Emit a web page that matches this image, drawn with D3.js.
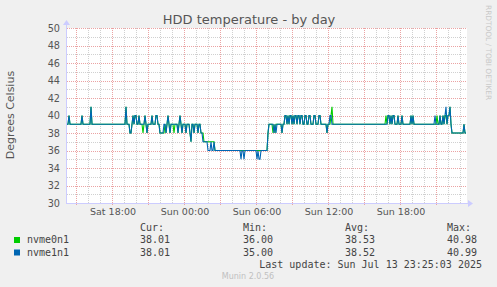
<!DOCTYPE html>
<html>
<head>
<meta charset="utf-8">
<script src="https://cdn.jsdelivr.net/npm/d3@7"></script>
<style>
    body { margin: 0; background: #f0f0f0; }
    svg { display: block; }
</style>
</head>
<body>
<svg id="chart"></svg>
<script>
var width = 497,
    height = 287;

// 5 minute samples from Sat 14:15, stored as [value, number of samples]
var startTime = new Date(2025, 6, 12, 14, 15);
var endTime = new Date(2025, 6, 13, 23, 35);

var nvme0n1 = [
    [39, 2], [40, 1], [39, 12], [40, 1], [39, 8], [41, 1], [39, 34], [41, 1], [39, 3], [38, 2],
    [39, 1], [40, 1], [39, 1], [40, 2], [39, 2], [40, 1], [39, 3], [38, 1], [39, 1], [40, 1],
    [39, 1], [38, 1], [39, 4], [40, 1], [39, 3], [40, 2], [39, 2], [38, 5], [39, 1], [38, 1],
    [39, 1], [40, 1], [39, 1], [38, 1], [39, 3], [38, 1], [39, 3], [38, 1], [39, 1], [40, 1],
    [39, 1], [38, 1], [39, 3], [38, 1], [39, 3], [38, 1], [37, 1], [39, 2], [38, 1], [39, 3],
    [38, 1], [39, 2], [38, 3], [37, 11], [36, 53], [38, 1], [39, 4], [38, 1], [39, 1], [38, 1],
    [39, 6], [38, 1], [39, 2], [40, 2], [39, 1], [40, 1], [39, 1], [40, 2], [39, 1], [40, 1],
    [39, 1], [40, 2], [39, 1], [40, 2], [39, 1], [40, 2], [39, 2], [40, 2], [39, 2], [40, 2],
    [39, 3], [40, 2], [39, 3], [40, 2], [39, 6], [38, 1], [39, 3], [40, 1], [41, 1], [39, 53],
    [40, 1], [39, 1], [40, 2], [39, 1], [40, 1], [39, 1], [40, 2], [39, 3], [40, 1], [39, 3],
    [40, 1], [39, 8], [40, 1], [39, 1], [40, 1], [39, 23], [40, 1], [39, 2], [40, 1], [39, 2],
    [40, 1], [39, 1], [40, 2], [39, 1], [40, 2], [41, 1], [39, 1], [38, 12], [39, 1], [38, 2]
];

var nvme1n1 = [
    [39, 2], [40, 1], [39, 12], [40, 1], [39, 8], [41, 1], [39, 34], [41, 1], [39, 3], [38, 2],
    [39, 1], [40, 1], [39, 1], [40, 2], [39, 2], [40, 1], [39, 5], [40, 1], [39, 1], [38, 1],
    [39, 4], [40, 1], [39, 3], [40, 2], [39, 2], [38, 4], [39, 2], [38, 1], [39, 1], [40, 1],
    [39, 1], [38, 1], [39, 7], [38, 1], [39, 1], [40, 1], [39, 1], [38, 1], [39, 3], [38, 1],
    [39, 3], [38, 1], [37, 1], [39, 2], [38, 1], [39, 3], [38, 1], [39, 2], [38, 2], [37, 5],
    [36, 3], [37, 1], [36, 2], [37, 1], [36, 26], [35, 1], [36, 2], [35, 1], [36, 12], [35, 1],
    [36, 1], [35, 2], [36, 7], [38, 1], [39, 5], [38, 1], [39, 1], [38, 1], [39, 5], [38, 1],
    [39, 2], [40, 2], [39, 1], [40, 1], [39, 1], [40, 2], [39, 1], [40, 1], [39, 1], [40, 2],
    [39, 1], [40, 2], [39, 1], [40, 2], [39, 2], [40, 2], [39, 2], [40, 2], [39, 3], [40, 2],
    [39, 3], [40, 2], [39, 6], [38, 1], [39, 2], [40, 2], [39, 56], [40, 2], [39, 1], [40, 1],
    [39, 1], [40, 2], [39, 3], [40, 1], [39, 3], [40, 1], [39, 8], [40, 1], [39, 1], [40, 1],
    [39, 21], [40, 1], [39, 4], [40, 1], [39, 2], [40, 1], [39, 1], [40, 1], [41, 1], [39, 1],
    [40, 2], [41, 1], [39, 1], [38, 12], [39, 1], [38, 2]
];

var seriesNames = ["nvme0n1", "nvme1n1"];
var seriesColors = ["#00cc00", "#0066b3"];
var yTicks = [30, 32, 34, 36, 38, 40, 42, 44, 46, 48, 50];
var legendHeads = ["Cur:", "Min:", "Avg:", "Max:"];
var legendValues = [
    ["38.01", "36.00", "38.53", "40.98"],
    ["38.01", "35.00", "38.52", "40.99"]
];
var lastUpdate = "Last update: Sun Jul 13 23:25:03 2025";

function expand(rle) {
    var out = [];
    rle.forEach(function (r) {
        for (var k = 0; k < r[1]; k++) {
            out.push({ t: d3.timeMinute.offset(startTime, out.length * 5), v: r[0] });
        }
    });
    return out;
}

var plot = { left: 67, right: 467, top: 28, bottom: 203 };

var x = d3.scaleTime()
    .domain([startTime, endTime])
    .range([plot.left, plot.right]);

var y = d3.scaleLinear()
    .domain([30, 50])
    .range([plot.bottom, plot.top]);

function px(v) { return Math.round(v) + 0.5; }

var svg = d3.select("#chart")
    .attr("width", width)
    .attr("height", height)
    .style("font-family", "'DejaVu Sans', sans-serif");

svg.append("rect")
    .attr("width", width)
    .attr("height", height)
    .attr("fill", "#f0f0f0");

svg.append("rect")
    .attr("x", plot.left)
    .attr("y", plot.top)
    .attr("width", plot.right - plot.left)
    .attr("height", plot.bottom - plot.top)
    .attr("fill", "#ffffff");

var grid = svg.append("g").attr("shape-rendering", "crispEdges");

// minor grid
var minorY = d3.range(31, 50, 2);
grid.selectAll(".hminor").data(minorY).enter().append("line")
    .attr("x1", plot.left).attr("x2", plot.right)
    .attr("y1", function (d) { return px(y(d)); })
    .attr("y2", function (d) { return px(y(d)); })
    .attr("stroke", "#d0d0d0").attr("stroke-dasharray", "1,1");

var hours = x.ticks(d3.timeHour.every(1)).filter(function (d) { return d.getHours() % 3 !== 0; });
grid.selectAll(".vminor").data(hours).enter().append("line")
    .attr("y1", plot.top).attr("y2", plot.bottom)
    .attr("x1", function (d) { return px(x(d)); })
    .attr("x2", function (d) { return px(x(d)); })
    .attr("stroke", "#d0d0d0").attr("stroke-dasharray", "1,1");

// major grid
grid.selectAll(".hmajor").data(yTicks.slice(1)).enter().append("line")
    .attr("x1", plot.left).attr("x2", plot.right)
    .attr("y1", function (d) { return px(y(d)); })
    .attr("y2", function (d) { return px(y(d)); })
    .attr("stroke", "#eba3a3").attr("stroke-dasharray", "1,1");

var major = x.ticks(d3.timeHour.every(3));
grid.selectAll(".vmajor").data(major).enter().append("line")
    .attr("y1", plot.top).attr("y2", plot.bottom + 2)
    .attr("x1", function (d) { return px(x(d)); })
    .attr("x2", function (d) { return px(x(d)); })
    .attr("stroke", "#eba3a3").attr("stroke-dasharray", "1,1");

// series, blue on top
var line = d3.line()
    .x(function (d) { return x(d.t); })
    .y(function (d) { return y(d.v); });

[nvme0n1, nvme1n1].forEach(function (s, i) {
    svg.append("path")
        .datum(expand(s))
        .attr("d", line)
        .attr("fill", "none")
        .attr("stroke", seriesColors[i])
        .attr("stroke-width", 1.1);
});

// axes with arrows
var axisColor = "#ccccff";
svg.append("line")
    .attr("x1", plot.left - 0.5).attr("x2", plot.right + 2)
    .attr("y1", px(plot.bottom)).attr("y2", px(plot.bottom))
    .attr("stroke", axisColor);
svg.append("line")
    .attr("x1", px(plot.left - 1)).attr("x2", px(plot.left - 1))
    .attr("y1", plot.bottom + 1).attr("y2", plot.top - 4)
    .attr("stroke", axisColor);
svg.append("path")
    .attr("d", "M" + (plot.right + 1) + "," + (plot.bottom - 3) + "l5,3.5l-5,3.5z")
    .attr("fill", axisColor);
svg.append("path")
    .attr("d", "M" + (plot.left - 4) + "," + (plot.top - 3) + "l3.5,-5l3.5,5z")
    .attr("fill", axisColor);

// y labels
svg.selectAll(".ylab").data(yTicks).enter().append("text")
    .attr("x", plot.left - 7)
    .attr("y", function (d) { return y(d) + 3.5; })
    .attr("text-anchor", "end")
    .attr("font-size", "9.7px")
    .attr("fill", "#555")
    .text(function (d) { return d; });

// x labels
var fmt = d3.timeFormat("%a %H:%M");
svg.selectAll(".xlab").data(x.ticks(d3.timeHour.every(6))).enter().append("text")
    .attr("x", function (d) { return x(d) + 1; })
    .attr("y", 215)
    .attr("text-anchor", "middle")
    .attr("font-size", "9.5px")
    .attr("fill", "#555")
    .text(function (d) { return fmt(d); });

svg.append("text")
    .attr("x", 249)
    .attr("y", 24)
    .attr("text-anchor", "middle")
    .attr("font-size", "13px")
    .attr("fill", "#555")
    .text("HDD temperature - by day");

svg.append("text")
    .attr("transform", "translate(14,115) rotate(-90)")
    .attr("text-anchor", "middle")
    .attr("font-size", "11px")
    .attr("fill", "#555")
    .text("Degrees Celsius");

svg.append("text")
    .attr("transform", "translate(486,5) rotate(90)")
    .attr("font-size", "7.4px")
    .attr("fill", "#c8c8c8")
    .text("RRDTOOL / TOBI OETIKER");

// legend
var mono = "'DejaVu Sans Mono', monospace";
var cols = [140, 243, 345, 447];
var leg = svg.append("g").style("font-family", mono).attr("font-size", "10px").attr("fill", "#444");

leg.selectAll(".head").data(legendHeads).enter().append("text")
    .attr("x", function (d, i) { return cols[i]; })
    .attr("y", 231)
    .text(function (d) { return d; });

seriesNames.forEach(function (name, i) {
    var yy = 243 + i * 12.5;
    svg.append("rect")
        .attr("x", 14).attr("y", yy - 6)
        .attr("width", 6).attr("height", 6)
        .attr("fill", seriesColors[i]);
    leg.append("text").attr("x", 27).attr("y", yy).text(name);
    legendValues[i].forEach(function (v, j) {
        leg.append("text").attr("x", cols[j]).attr("y", yy).text(v);
    });
});

leg.append("text")
    .attr("x", 482)
    .attr("y", 268)
    .attr("text-anchor", "end")
    .text(lastUpdate);

svg.append("text")
    .attr("x", 248)
    .attr("y", 279)
    .attr("text-anchor", "middle")
    .attr("font-size", "8px")
    .attr("fill", "#c0c0c0")
    .text("Munin 2.0.56");
</script>
</body>
</html>
